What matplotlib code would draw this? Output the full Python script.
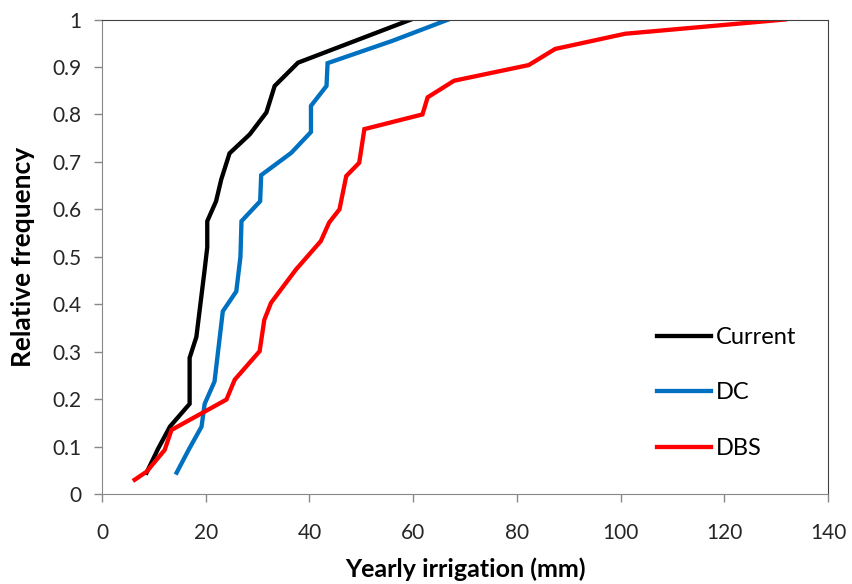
import matplotlib
matplotlib.use('Agg')
import matplotlib.pyplot as plt

# curve points (x: yearly irrigation mm, y: relative frequency)
current_x = [8.6, 10.8, 13.1, 16.9, 16.9, 18.2, 19.8, 20.3, 20.3, 22.0, 23.0, 24.6, 28.5, 31.7, 33.3, 37.8, 59.6]
current_y = [0.045, 0.095, 0.142, 0.19, 0.287, 0.331, 0.473, 0.520, 0.575, 0.617, 0.663, 0.718, 0.758, 0.804, 0.860, 0.909, 1.0]

dc_x = [14.4, 16.8, 19.2, 19.8, 21.7, 23.3, 25.9, 26.7, 26.9, 30.5, 30.7, 36.5, 40.3, 40.3, 43.3, 43.5, 56.0, 66.8]
dc_y = [0.045, 0.095, 0.142, 0.19, 0.237, 0.385, 0.427, 0.500, 0.575, 0.617, 0.672, 0.719, 0.763, 0.818, 0.860, 0.908, 0.955, 1.0]

dbs_x = [6.3, 8.6, 12.1, 13.4, 24.0, 25.6, 30.4, 31.3, 32.6, 37.4, 42.2, 43.8, 45.8, 47.1,
         49.6, 50.6, 61.8, 62.8, 67.9, 82.3, 87.4, 100.9, 131.7]
dbs_y = [0.030, 0.047, 0.093, 0.135, 0.199, 0.241, 0.301, 0.367, 0.403, 0.473, 0.533, 0.572, 0.600, 0.670,
         0.698, 0.769, 0.800, 0.836, 0.871, 0.904, 0.938, 0.970, 1.0]

SERIES = [('Current', current_x, current_y, '#000000'),
          ('DC', dc_x, dc_y, '#0070C0'),
          ('DBS', dbs_x, dbs_y, '#FF0000')]

X_TICKS = [0, 20, 40, 60, 80, 100, 120, 140]
Y_TICKS = [0, 0.1, 0.2, 0.3, 0.4, 0.5, 0.6, 0.7, 0.8, 0.9, 1]

plt.rcParams['font.family'] = ['Lato', 'DejaVu Sans']

fig = plt.figure(figsize=(8.52, 5.84), dpi=100)
ax = fig.add_axes([0.1197, 0.1541, 0.8521, 0.8125])

for name, xs, ys, col in SERIES:
    ax.plot(xs, ys, color=col, linewidth=3.1, label=name, solid_joinstyle='miter')

ax.set_xlim(0, 140)
ax.set_ylim(0, 1)
ax.set_xticks(X_TICKS)
ax.set_yticks(Y_TICKS)
ax.set_xticklabels([f'{v:g}' for v in X_TICKS])
ax.set_yticklabels([f'{v:g}' for v in Y_TICKS])
ax.tick_params(direction='out', length=6, width=1, color='#888888', labelsize=15, labelcolor='#262626')
ax.tick_params(axis='y', pad=9)
ax.tick_params(axis='x', pad=15)

for side in ['left', 'bottom']:
    ax.spines[side].set_color('#888888')
for side in ['top', 'right']:
    ax.spines[side].set_color('#404040')

ax.set_xlabel('Yearly irrigation (mm)', fontsize=18, fontweight='bold', labelpad=10)
ax.set_ylabel('Relative frequency', fontsize=19, fontweight='bold', labelpad=12)

ax.legend(loc='center left', bbox_to_anchor=(0.764, 0.213), frameon=False, fontsize=17,
          handlelength=2.3, handletextpad=0.2, labelspacing=1.46, borderpad=0, borderaxespad=0)

fig.savefig('out.png', dpi=100)
